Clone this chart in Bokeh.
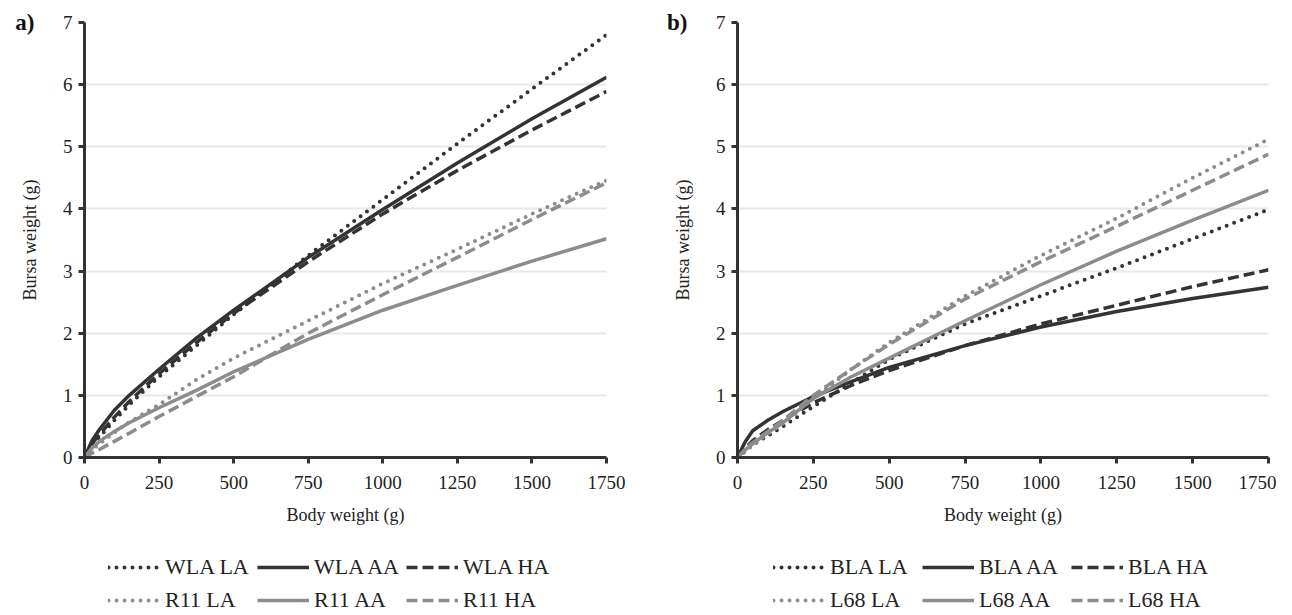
from bokeh.plotting import figure
from bokeh.models import Legend, LegendItem, FixedTicker, LinearAxis
from bokeh.layouts import row, column
from bokeh.embed import file_html
from bokeh.resources import INLINE

# ---- data ----
body_weight = [0, 25, 50, 100, 150, 250, 375, 500, 750, 1000, 1250, 1500, 1750]

wla_la = [0, 0.20, 0.33, 0.60, 0.85, 1.30, 1.80, 2.30, 3.25, 4.15, 5.05, 5.93, 6.80]
wla_aa = [0, 0.27, 0.45, 0.76, 1.00, 1.42, 1.92, 2.37, 3.22, 3.99, 4.74, 5.45, 6.12]
wla_ha = [0, 0.22, 0.37, 0.65, 0.90, 1.35, 1.85, 2.32, 3.15, 3.92, 4.62, 5.27, 5.89]
r11_la = [0, 0.12, 0.22, 0.40, 0.57, 0.85, 1.25, 1.60, 2.20, 2.80, 3.35, 3.92, 4.46]
r11_aa = [0, 0.15, 0.26, 0.42, 0.56, 0.80, 1.08, 1.38, 1.90, 2.37, 2.77, 3.16, 3.52]
r11_ha = [0, 0.07, 0.13, 0.26, 0.39, 0.66, 0.98, 1.30, 2.00, 2.62, 3.22, 3.83, 4.42]

bla_la = [0, 0.10, 0.20, 0.35, 0.50, 0.82, 1.20, 1.58, 2.15, 2.60, 3.05, 3.52, 3.99]
bla_aa = [0, 0.25, 0.43, 0.60, 0.74, 0.98, 1.22, 1.45, 1.80, 2.10, 2.35, 2.56, 2.74]
bla_ha = [0, 0.15, 0.27, 0.45, 0.60, 0.88, 1.16, 1.40, 1.80, 2.15, 2.45, 2.75, 3.02]
l68_la = [0, 0.10, 0.20, 0.38, 0.55, 0.95, 1.42, 1.85, 2.60, 3.25, 3.85, 4.50, 5.12]
l68_aa = [0, 0.12, 0.22, 0.40, 0.56, 0.95, 1.30, 1.60, 2.20, 2.78, 3.32, 3.82, 4.30]
l68_ha = [0, 0.13, 0.24, 0.42, 0.60, 1.00, 1.42, 1.82, 2.55, 3.15, 3.72, 4.30, 4.88]

x_ticks = [0, 250, 500, 750, 1000, 1250, 1500, 1750]
y_ticks = [0, 1, 2, 3, 4, 5, 6, 7]

panel_a_names = ["WLA LA", "WLA AA", "WLA HA", "R11 LA", "R11 AA", "R11 HA"]
panel_b_names = ["BLA LA", "BLA AA", "BLA HA", "L68 LA", "L68 AA", "L68 HA"]

FONT = "Liberation Serif"
DARK = "#333333"
GRAY = "#8c8c8c"
DOT = dict(line_dash="0 8", line_cap="round", line_width=4)
SOLID = dict(line_width=3.5)
DASH = dict(line_dash="11 5", line_width=3.5)
STYLES = [DOT, SOLID, DASH, DOT, SOLID, DASH]
COLORS = [DARK, DARK, DARK, GRAY, GRAY, GRAY]

LEG_H = 78


def make_legend(items, leg_x, leg_y):
    return Legend(items=items, orientation="horizontal",
                  location=(leg_x, leg_y), border_line_color=None,
                  background_fill_alpha=0,
                  label_text_font=FONT, label_text_font_size="22px",
                  label_text_color="#222222", label_width=90,
                  glyph_width=52, glyph_height=26, label_standoff=5,
                  spacing=2, padding=0, margin=0)


def make_panel(series, names, tag, border_left, frame_w, border_right, leg_x):
    p = figure(
        output_backend="svg", toolbar_location=None,
        x_range=(0, 1750), y_range=(0, 7),
        frame_width=frame_w, frame_height=435,
        min_border_left=border_left, min_border_right=border_right,
        min_border_top=22, min_border_bottom=78,
        background_fill_color="white", border_fill_color="white",
        outline_line_color=None,
    )
    for ys, st, c in zip(series, STYLES, COLORS):
        p.line(body_weight, ys, line_color=c, **st)

    for ax in (p.xaxis[0], p.yaxis[0]):
        ax.axis_line_color = DARK
        ax.axis_line_width = 3
        ax.major_tick_line_color = DARK
        ax.major_tick_line_width = 3
        ax.major_tick_out = 6
        ax.major_tick_in = 0
        ax.minor_tick_line_color = None
        ax.major_label_text_font = FONT
        ax.major_label_text_font_size = "19px"
        ax.major_label_text_color = "#222222"
        ax.axis_label_text_font = FONT
        ax.axis_label_text_font_size = "18px"
        ax.axis_label_text_font_style = "normal"
        ax.axis_label_text_color = "#222222"
    p.xaxis[0].ticker = FixedTicker(ticks=x_ticks)
    p.yaxis[0].ticker = FixedTicker(ticks=y_ticks)
    p.xaxis[0].axis_label = "Body weight (g)"
    p.yaxis[0].axis_label = "Bursa weight (g)"
    p.xaxis[0].major_label_standoff = 12
    p.xaxis[0].axis_label_standoff = 13
    p.yaxis[0].major_label_standoff = 6
    p.yaxis[0].axis_label_standoff = 20

    # panel tag ("a)" / "b)") drawn as the single label of an outer, line-less axis
    tag_axis = LinearAxis(ticker=FixedTicker(ticks=[7]),
                          major_label_overrides={7: tag},
                          axis_line_color=None, major_tick_line_color=None,
                          minor_tick_line_color=None,
                          major_tick_out=0, major_tick_in=0,
                          major_label_standoff=-18,
                          major_label_text_font=FONT,
                          major_label_text_font_style="bold",
                          major_label_text_font_size="23px",
                          major_label_text_color="#111111")
    p.add_layout(tag_axis, "left")

    p.xgrid.grid_line_color = None
    p.ygrid.grid_line_color = "#e8e8e8"
    p.ygrid.grid_line_width = 2

    # legend strip underneath, as its own small figure (its frame aligns with the plot's)
    total_w = border_left + frame_w + border_right
    lf = figure(output_backend="svg", toolbar_location=None,
                width=total_w, height=LEG_H,
                x_range=(-2, -1), y_range=(-2, -1),
                min_border=0, outline_line_color=None,
                background_fill_color="white", border_fill_color="white")
    lf.axis.visible = False
    lf.grid.grid_line_color = None
    items = []
    for ys, nm, st, c in zip(series, names, STYLES, COLORS):
        r = lf.line(body_weight, ys, line_color=c, **st)  # off-range: only feeds the legend
        items.append(LegendItem(label=nm, renderers=[r]))
    lf.add_layout(make_legend(items[:3], leg_x, 33), "center")
    lf.add_layout(make_legend(items[3:], leg_x, 0), "center")
    return column(p, lf, spacing=0)


pa = make_panel([wla_la, wla_aa, wla_ha, r11_la, r11_aa, r11_ha],
                panel_a_names, "a)", 84, 522, 47, 24)
pb = make_panel([bla_la, bla_aa, bla_ha, l68_la, l68_aa, l68_ha],
                panel_b_names, "b)", 84, 531, 8, 36)

layout = row(pa, pb, spacing=0)
open("out.html", "w").write(file_html(layout, INLINE))
